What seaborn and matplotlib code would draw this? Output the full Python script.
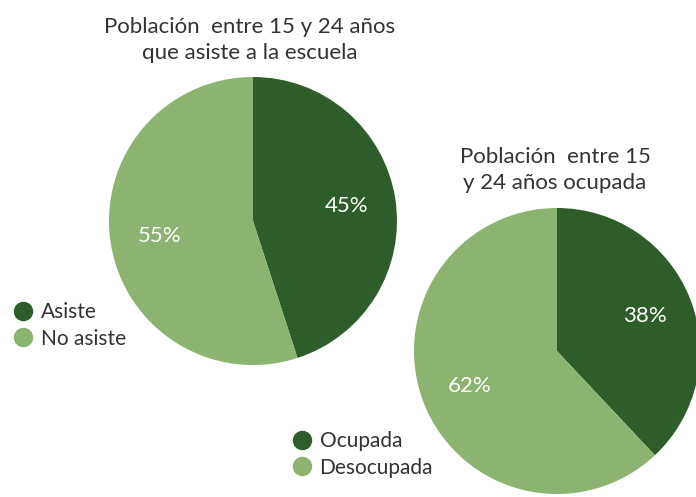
import matplotlib
matplotlib.use("Agg")
import matplotlib.pyplot as plt
import seaborn as sns
from matplotlib.lines import Line2D

sns.set_theme(style="white")
plt.rcParams['font.family'] = ['Lato', 'DejaVu Sans']

# data
escuela_labels = ["Asiste", "No asiste"]
escuela_vals = [45, 55]
ocupada_labels = ["Ocupada", "Desocupada"]
ocupada_vals = [38, 62]
title1 = "Población  entre 15 y 24 años\nque asiste a la escuela"
title2 = "Población  entre 15\ny 24 años ocupada"

dark = "#2d5e2a"
light = "#8cb36f"
txt = "#333333"

W, H = 696, 497
fig = plt.figure(figsize=(W / 100, H / 100), dpi=100)


def pie_axes(cx, cy, r):
    # pixel center/radius -> figure fraction axes
    return fig.add_axes([(cx - r) / W, (H - cy - r) / H, 2 * r / W, 2 * r / H])


def draw_pie(ax, vals):
    ax.pie(vals, colors=[dark, light], startangle=90, counterclock=False,
           autopct=lambda p: f"{p:.0f}%", pctdistance=0.66,
           wedgeprops=dict(linewidth=0),
           textprops=dict(color="white", fontsize=16))
    ax.set_xlim(-1, 1)
    ax.set_ylim(-1, 1)
    ax.set_aspect("equal")
    ax.axis("off")


ax1 = pie_axes(253, 221, 144)
draw_pie(ax1, escuela_vals)
ax2 = pie_axes(557, 351, 143)
draw_pie(ax2, ocupada_vals)

fig.text(250 / W, 1 - 40 / H, title1, ha="center", va="center",
         fontsize=16, color=txt, linespacing=1.35)
fig.text(555 / W, 1 - 170 / H, title2, ha="center", va="center",
         fontsize=16, color=txt, linespacing=1.35)


def legend(x, y, labels):
    handles = [Line2D([], [], marker="o", ls="", markersize=13, color=c)
               for c in [dark, light]]
    fig.legend(handles, labels, loc="upper left",
               bbox_to_anchor=(x / W, 1 - y / H), frameon=False,
               fontsize=15, labelcolor=txt, handletextpad=0.3,
               labelspacing=0.3, borderpad=0, handlelength=1.1)


legend(1, 292, escuela_labels)
legend(280, 421, ocupada_labels)

fig.savefig("out.png", dpi=100)
